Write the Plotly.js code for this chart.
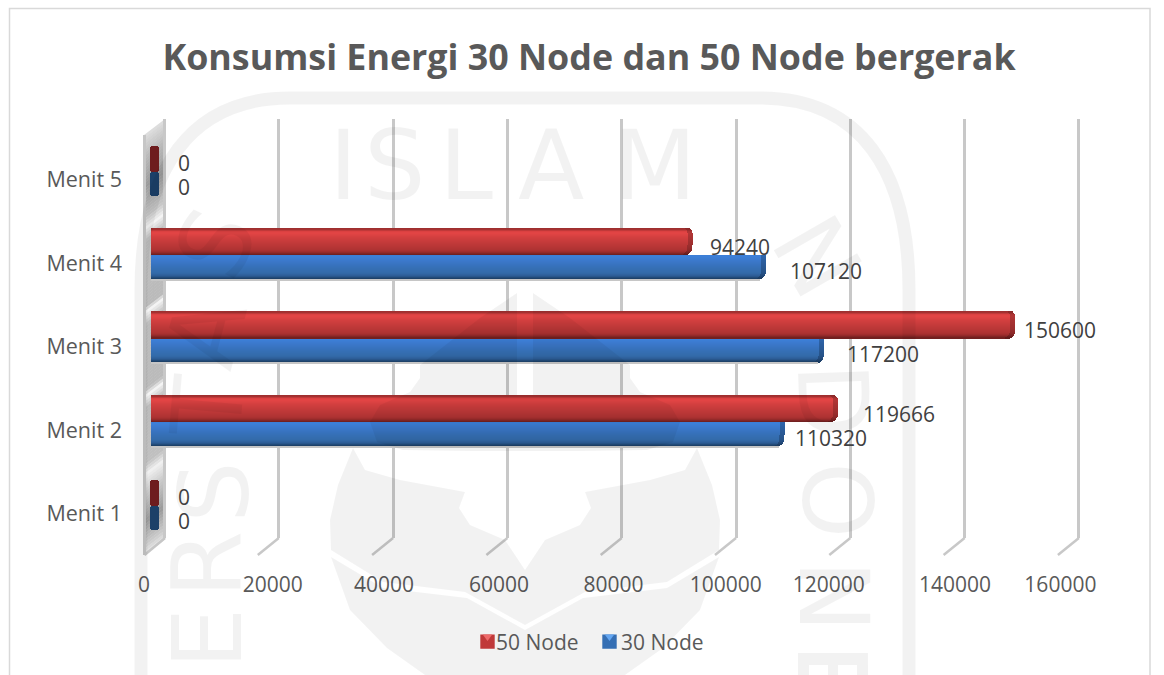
<!DOCTYPE html>
<html>
<head>
<meta charset="utf-8">
<script src="https://cdn.plot.ly/plotly-3.0.1.min.js"></script>
<style>html,body{margin:0;padding:0;background:#fff}#c{width:1164px;height:675px}</style>
</head>
<body>
<div id="c"></div>
<script>
// ---- chart data ----
const categories = ["Menit 1", "Menit 2", "Menit 3", "Menit 4", "Menit 5"];
const node50 = [0, 119666, 150600, 94240, 0];
const node30 = [0, 110320, 117200, 107120, 0];
const axisTicks = [0, 20000, 40000, 60000, 80000, 100000, 120000, 140000, 160000];
const titleText = "Konsumsi Energi 30 Node dan 50 Node bergerak";

// ---- page geometry / styling ----
const W = 1164, H = 675;
const FONT = "'Open Sans', sans-serif";
const px2pX = p => p / W, px2pY = p => (H - p) / H;
const rangeFor = (zeroPx, pxPer20k) => {
  const k = pxPer20k / 20000;
  return [(0 - zeroPx) / k, (W - zeroPx) / k];
};
const BAR_K = 114.5 / 20000, BAR_ZERO = 153;
const LAB_K = 112.46 / 20000, LAB_ZERO = 160.7;
const catPx = 83.5, cat0Px = 505.5;
const u = 1 / catPx;
const tickNudgePx = [-16.7, -0.5, -1.6, 1, 3, 2.7, -6.8, 7, 0];
const labelGap50 = [25, 25, 9, 17, 25];
const labelGap30 = [25, 10, 23, 24, 25];

// bevel gradient stops: [px above category centre, face colour, end-cap colour, end inset px]
const redStops = [
  [27, "#9c2e2e", "#8a2828", 3],
  [25, "#a83232", "#902b2b", 1.5],
  [24, "#d84040", "#a83333", 0.5],
  [22, "#e44545", "#b23636", 0],
  [17, "#d03e3e", "#a83232", 0],
  [10, "#bc3737", "#9c2e2e", 0],
  [5,  "#ae3232", "#8e2929", 0.5],
  [3,  "#9c2d2d", "#7e2424", 2],
  [1,  "#7a2222", "#651c1c", 4],
  [0,  "#6a1e1e", "#5c1a1a", 5.5]
];
const blueStops = [
  [0,   "#3a7bd2", "#2e65ab", 0],
  [-1,  "#3d80d9", "#2e65ab", 0],
  [-6,  "#3b78cb", "#2b5e9f", 0],
  [-12, "#3670b8", "#295893", 0],
  [-18, "#336aa9", "#265287", 0.5],
  [-21, "#2c5c94", "#214877", 1.5],
  [-23, "#1f4570", "#1b3c62", 3.5],
  [-24, "#1b3c62", "#1b3c62", 5]
];
const hex = c => [1, 3, 5].map(i => parseInt(c.substr(i, 2), 16));
const mix = (a, b, t) => {
  const A = hex(a), B = hex(b);
  return "rgb(" + A.map((v, i) => Math.round(v + (B[i] - v) * t)).join(",") + ")";
};
function rows(stops) {
  const out = [];
  for (let y = stops[0][0]; y > stops[stops.length - 1][0]; y--) {
    const m = y - 0.5;
    let i = 0;
    while (stops[i + 1][0] > m) i++;
    const a = stops[i], b = stops[i + 1], t = (a[0] - m) / (a[0] - b[0]);
    out.push({ top: y, bottom: y - 1, face: mix(a[1], b[1], t), cap: mix(a[2], b[2], t), inset: a[3] + (b[3] - a[3]) * t });
  }
  return out;
}
const LEAD = 2 / BAR_K, CAP = 5 / BAR_K;

function barTraces(values, stops, name, legendRow, rank, stub, extra) {
  const cats = categories.filter((c, i) => values[i] > 0);
  const vals = values.filter(v => v > 0);
  const out = [];
  const bandRows = rows(stops).concat(extra || []);
  bandRows.forEach((r, i) => {
    const inset = r.inset / BAR_K;
    const shared = { type: "bar", orientation: "h", y: cats, offset: r.bottom * u, width: (r.top - r.bottom) * u, hoverinfo: "skip", xaxis: "x2", yaxis: "y2" };
    out.push(Object.assign({}, shared, {
      x: vals.map(v => v + LEAD - inset), base: -LEAD,
      marker: { color: r.face, line: { width: 0 } },
      name: name, showlegend: i === legendRow, legendrank: rank
    }));
    out.push(Object.assign({}, shared, {
      x: vals.map(() => CAP), base: vals.map(v => v - inset - CAP),
      marker: { color: r.cap, line: { width: 0 } }, showlegend: false
    }));
  });
  // zero values only show the dark 3-D end of the bar
  const zeroCats = categories.filter((c, i) => values[i] === 0);
  out.push({
    type: "bar", orientation: "h", y: zeroCats,
    x: zeroCats.map(() => 9 / BAR_K), base: -3 / BAR_K,
    offset: stub.bottom * u, width: stub.height * u,
    marker: { color: stub.color, cornerradius: 3, line: { width: 0 } },
    showlegend: false, hoverinfo: "skip", xaxis: "x2", yaxis: "y2"
  });
  return out;
}

const helperTraces = [
  { type: "scatter", mode: "none", x: axisTicks, y: axisTicks.map(() => 0.5), xaxis: "x", yaxis: "y", showlegend: false, hoverinfo: "skip" },
  { type: "scatter", mode: "none", x: axisTicks, y: categories, xaxis: "x3", yaxis: "y2", showlegend: false, hoverinfo: "skip" }
];
const blueShadow = [{ top: -24, bottom: -25.5, face: "#c6c6c6", cap: "#c6c6c6", inset: 6 }];
const traces = helperTraces
  .concat(barTraces(node30, blueStops, "30 Node", 13, 2, { bottom: -24, height: 24, color: "#1c4068" }, blueShadow))
  .concat(barTraces(node50, redStops, "50 Node", 15, 1, { bottom: 0, height: 26, color: "#6e1c1e" }));

// ---- side wall, floor ticks, frame ----
const shapes = [];
const pathOf = pts => pts.map((p, i) => (i ? "L" : "M") + px2pX(p[0]).toFixed(5) + "," + px2pY(p[1]).toFixed(5)).join(" ") + " Z";
const wallStops = [[119,221],[140,187],[170,154],[200,200],[212,244],[225,189],[290,187],[296,244],[309,187],[373,187],[380,244],[392,187],[447,192],[458,240],[475,204],[505,153],[530,208],[538,232]];
function wallGrey(y) {
  for (let i = 1; i < wallStops.length; i++) {
    if (y <= wallStops[i][0]) {
      const a = wallStops[i - 1], b = wallStops[i];
      return Math.round(a[1] + (b[1] - a[1]) * (y - a[0]) / (b[0] - a[0]));
    }
  }
  return 232;
}
for (let y = 119; y < 538; y += 3) {
  const g = wallGrey(y);
  shapes.push({ type: "path", layer: "below", xref: "paper", yref: "paper", line: { width: 0 }, fillcolor: `rgb(${g},${g},${g})`,
    path: pathOf([[165, y], [165, y + 3.5], [144, y + 19.5], [144, y + 16]]) });
}
shapes.push({ type: "line", layer: "below", xref: "paper", yref: "paper", x0: px2pX(144.5), x1: px2pX(144.5), y0: px2pY(135), y1: px2pY(555), line: { color: "#c6c6c6", width: 3 } });
shapes.push({ type: "line", layer: "below", xref: "paper", yref: "paper", x0: px2pX(144.5), x1: px2pX(165), y0: px2pY(555), y1: px2pY(538), line: { color: "#c6c6c6", width: 2.5 } });
axisTicks.slice(1).forEach(t => {
  shapes.push({ type: "line", layer: "below", xref: "x", yref: "paper", xsizemode: "pixel", xanchor: t, x0: 0, x1: -21, y0: px2pY(538), y1: px2pY(555), line: { color: "#c8c8c8", width: 2.5 } });
});
// chart frame (open at the bottom, cropped by the page)
shapes.push({ type: "path", layer: "below", xref: "paper", yref: "paper", line: { color: "#d9d9d9", width: 1.5 }, fillcolor: "rgba(0,0,0,0)",
  path: `M${px2pX(9.5)},0 L${px2pX(9.5)},${px2pY(8.5)} L${px2pX(1150)},${px2pY(8.5)} L${px2pX(1150)},0` });

// ---- watermark (scanned-page seal) ----
const WM = "rgba(0,0,0,0.052)";
const C = 525;
const mirror = pts => pts.slice().reverse().map(p => [2 * C - p[0], p[1]]);
const flameLeft = [[517,293],[480,318],[420,365],[420,378],[410,392],[380,405],[370,422],[377,442],[403,450],[470,451],[525,451],[525,395],[517,395]];
const leafLeft = [[525,570],[505,540],[470,525],[459,508],[465,492],[400,480],[365,470],[353,448],[338,485],[330,520],[331,550],[383,582],[465,592],[525,625]];
const baseLeft = [[525,630],[467,598],[383,588],[331,557],[350,610],[387,648],[425,675],[525,675]];
// last letter of the seal's right-hand text, cropped by the page edge
const cropLetter = [[[798,653],[868,653],[868,665],[798,665]], [[798,665],[809,665],[809,675],[798,675]], [[828,665],[838,665],[838,675],[828,675]], [[857,665],[868,665],[868,675],[857,675]]];
[flameLeft, mirror(flameLeft), leafLeft.concat(mirror(leafLeft)), baseLeft.concat(mirror(baseLeft))].concat(cropLetter).forEach(pts => {
  shapes.push({ type: "path", layer: "above", xref: "paper", yref: "paper", fillcolor: WM, line: { width: 0 }, path: pathOf(pts) });
});
const x_ = px2pX, y_ = px2pY;
shapes.push({ type: "path", layer: "above", xref: "paper", yref: "paper", fillcolor: "rgba(0,0,0,0)", line: { color: WM, width: 13 },
  path: `M${x_(141)},0 L${x_(141)},${y_(290)} C${x_(141)},${y_(170)} ${x_(190)},${y_(98)} ${x_(290)},${y_(98)} L${x_(760)},${y_(98)} C${x_(860)},${y_(98)} ${x_(909)},${y_(170)} ${x_(909)},${y_(290)} L${x_(909)},0` });

const wmLetters = ["I","S","L","A","M","S","A","T","S","R","E","N","D","O","N"];
const wmX = [343,395,466,551,655,216,206,208,214,207,207,817,833,837,834];
const wmY = [166,166,166,166,166,243,332,407,492,565,639,257,400,500,596];
const wmAngle = [0,0,0,0,0,-65,-75,-85,-90,-90,-90,60,88,90,90];

const annotations = [];
wmLetters.forEach((t, i) => annotations.push({
  xref: "paper", yref: "paper", x: px2pX(wmX[i]), y: px2pY(wmY[i]), text: t, showarrow: false,
  xanchor: "center", yanchor: "middle", textangle: wmAngle[i],
  font: { family: "'DejaVu Sans', sans-serif", size: 97, color: WM }
}));
[[node50, labelGap50, 8.5], [node30, labelGap30, -15.5]].forEach(([vals, gaps, dy]) => {
  vals.forEach((v, i) => annotations.push({
    xref: "x2", yref: "y2", x: v, y: categories[i], text: String(v), showarrow: false,
    xanchor: "left", yanchor: "middle", xshift: gaps[i] - 2, yshift: dy,
    font: { family: FONT, size: 21, color: "#404040" }
  }));
});

const layout = {
  width: W, height: H, margin: { l: 0, r: 0, t: 0, b: 0, pad: 0 },
  paper_bgcolor: "#ffffff", plot_bgcolor: "rgba(0,0,0,0)",
  barmode: "overlay", bargap: 0,
  showlegend: true,
  legend: { orientation: "h", x: px2pX(456), xanchor: "left", y: px2pY(642), yanchor: "middle", entrywidth: 80, entrywidthmode: "pixels",
    font: { family: FONT, size: 21, color: "#595959" }, bgcolor: "rgba(0,0,0,0)", itemclick: false, itemdoubleclick: false },
  title: { text: titleText, x: px2pX(589), xanchor: "center", y: px2pY(57), yanchor: "middle",
    font: { family: FONT, size: 35.8, weight: 700, color: "#595959" } },
  // back-wall grid: its own short subplot so the lines stop at the chart floor
  xaxis: { domain: [0, 1], anchor: "y", range: rangeFor(164.5, 114.3), tickmode: "array", tickvals: axisTicks,
    showticklabels: false, ticks: "", showgrid: true, gridcolor: "#c8c8c8", gridwidth: 2.5, zeroline: false, showline: false, fixedrange: true },
  yaxis: { domain: [px2pY(538), px2pY(119)], anchor: "x", range: [0, 1], visible: false, fixedrange: true },
  // bars
  xaxis2: { domain: [0, 1], anchor: "y2", range: rangeFor(BAR_ZERO, 114.5), showgrid: false, zeroline: false, showticklabels: false, ticks: "", showline: false, fixedrange: true },
  yaxis2: { domain: [0, 1], type: "category", categoryorder: "array", categoryarray: categories,
    range: [(cat0Px - H) / catPx, cat0Px / catPx], anchor: "free", position: px2pX(122), side: "left",
    tickfont: { family: FONT, size: 21.5, color: "#595959" }, ticks: "", ticklabelshift: 8, showgrid: false, zeroline: false, showline: false, fixedrange: true },
  // value labels under the floor
  xaxis3: { domain: [0, 1], overlaying: "x2", anchor: "free", position: px2pY(570), side: "bottom",
    range: rangeFor(LAB_ZERO, 112.46), tickmode: "array",
    tickvals: axisTicks.map((t, i) => t + tickNudgePx[i] / LAB_K), ticktext: axisTicks.map(String),
    tickfont: { family: FONT, size: 21, color: "#595959" }, ticks: "", showgrid: false, zeroline: false, showline: false, fixedrange: true },
  shapes: shapes,
  annotations: annotations
};

Plotly.newPlot("c", traces, layout, { displayModeBar: false }).then(() => {
  // move the legend swatches next to their text, enlarge them and add the bevelled highlight
  const style = { "50 Node": ["#ee6a6a", 11.5], "30 Node": ["#63a6f2", 8.5] };
  const SCALE = 1.2;
  document.querySelectorAll(".legend .traces").forEach(tr => {
    const s = style[tr.querySelector(".legendtext").textContent];
    tr.querySelector(".legendsymbols").setAttribute("transform", "translate(" + (s[1] - 20 * (SCALE - 1)) + ",0) scale(" + SCALE + ")");
    const tri = document.createElementNS("http://www.w3.org/2000/svg", "path");
    tri.setAttribute("d", "M16,-6 L24,-6 L20,-0.5 Z");
    tri.setAttribute("style", "fill:" + s[0]);
    tr.querySelector(".legendpoints").appendChild(tri);
  });
});
</script>
</body>
</html>
